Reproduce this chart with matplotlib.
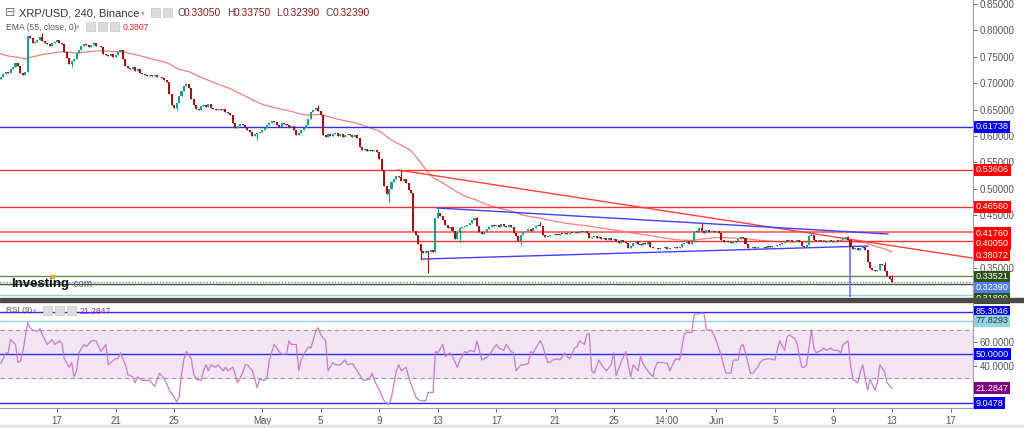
import numpy as np
import matplotlib
matplotlib.use("Agg")
from matplotlib import pyplot as plt
from matplotlib.patches import Rectangle

plt.rcParams['font.family'] = ['Liberation Sans', 'DejaVu Sans']

# XRP/USD 4h closes from Apr 13 00:00, six bars per day
first_open = 0.705
closes = [
    0.708, 0.712, 0.718, 0.722, 0.720, 0.726,
    0.730, 0.738, 0.733, 0.720, 0.716, 0.722,
    0.790, 0.785, 0.776, 0.778, 0.782, 0.788,
    0.780, 0.776, 0.774, 0.771, 0.776, 0.779,
    0.782, 0.777, 0.775, 0.760, 0.748, 0.737,
    0.742, 0.745, 0.757, 0.762, 0.770, 0.774,
    0.772, 0.768, 0.773, 0.776, 0.770, 0.771,
    0.768, 0.756, 0.754, 0.752, 0.755, 0.750,
    0.753, 0.759, 0.763, 0.745, 0.733, 0.729,
    0.727, 0.730, 0.724, 0.726, 0.720, 0.717,
    0.715, 0.714, 0.716, 0.713, 0.715, 0.712,
    0.711, 0.709, 0.707, 0.703, 0.680, 0.658,
    0.653, 0.662, 0.675, 0.686, 0.695, 0.698,
    0.690, 0.670, 0.658, 0.652, 0.650, 0.656,
    0.658, 0.655, 0.660, 0.653, 0.651, 0.650,
    0.652, 0.649, 0.651, 0.646, 0.644, 0.640,
    0.625, 0.616, 0.619, 0.622, 0.620, 0.617,
    0.612, 0.608, 0.600, 0.603, 0.606, 0.608,
    0.612, 0.616, 0.621, 0.624, 0.628, 0.626,
    0.621, 0.618, 0.625, 0.623, 0.620, 0.618,
    0.619, 0.612, 0.602, 0.606, 0.612, 0.615,
    0.620, 0.632, 0.645, 0.650, 0.654, 0.648,
    0.640, 0.602, 0.598, 0.604, 0.600, 0.603,
    0.605, 0.600, 0.603, 0.598, 0.601, 0.604,
    0.602, 0.599, 0.601, 0.596, 0.580, 0.574,
    0.575, 0.572, 0.574, 0.571, 0.573, 0.570,
    0.556, 0.535, 0.505, 0.490, 0.500, 0.512,
    0.518, 0.525, 0.522, 0.515, 0.518, 0.511,
    0.498, 0.493, 0.420, 0.413, 0.395, 0.383,
    0.378, 0.382, 0.380, 0.384, 0.381, 0.445,
    0.455, 0.448, 0.440, 0.432, 0.425, 0.428,
    0.420, 0.405, 0.418, 0.425, 0.428, 0.430,
    0.432, 0.436, 0.440, 0.444, 0.430, 0.418,
    0.415, 0.418, 0.424, 0.428, 0.432, 0.429,
    0.431, 0.428, 0.433, 0.430, 0.427, 0.431,
    0.428, 0.416, 0.410, 0.402, 0.412, 0.418,
    0.420, 0.423, 0.421, 0.426, 0.429, 0.432,
    0.430, 0.412, 0.409, 0.411, 0.413, 0.412,
    0.414, 0.413, 0.415, 0.414, 0.416, 0.415,
    0.417, 0.416, 0.418, 0.417, 0.419, 0.418,
    0.420, 0.416, 0.406, 0.408, 0.410, 0.407,
    0.409, 0.405, 0.407, 0.404, 0.406, 0.403,
    0.405, 0.402, 0.398, 0.403, 0.400, 0.397,
    0.388, 0.392, 0.398, 0.401, 0.396, 0.394,
    0.398, 0.395, 0.399, 0.389, 0.387, 0.388,
    0.386, 0.388, 0.387, 0.389, 0.386, 0.388,
    0.387, 0.389, 0.388, 0.390, 0.395, 0.398,
    0.401, 0.396, 0.400, 0.421, 0.418, 0.425,
    0.420, 0.417, 0.422, 0.419, 0.421, 0.418,
    0.420, 0.416, 0.403, 0.399, 0.401, 0.400,
    0.398, 0.401, 0.399, 0.405, 0.409, 0.407,
    0.395, 0.388, 0.387, 0.389, 0.388, 0.390,
    0.389, 0.390, 0.388, 0.391, 0.390, 0.392,
    0.391, 0.393, 0.396, 0.398, 0.402, 0.401,
    0.403, 0.400, 0.402, 0.404, 0.400, 0.391,
    0.390, 0.393, 0.410, 0.412, 0.404, 0.402,
    0.403, 0.401, 0.402, 0.400, 0.402, 0.401,
    0.400, 0.402, 0.401, 0.403, 0.405, 0.408,
    0.404, 0.390, 0.386, 0.388, 0.385, 0.387,
    0.389, 0.384, 0.362, 0.350, 0.346, 0.344,
    0.347, 0.358, 0.356, 0.345, 0.335, 0.330,
    0.3239,
]

# notable wicks (bar index, extreme price)
wick_bars = [18, 30, 73, 77, 106, 131, 160, 165, 173, 176, 180, 189, 196, 214, 222, 288, 333, 348, 363, 366]
wick_prices = [0.795, 0.731, 0.649, 0.700, 0.593, 0.659, 0.475, 0.536, 0.365, 0.340,
               0.464, 0.399, 0.447, 0.394, 0.437, 0.435, 0.416, 0.410, 0.362, 0.3375]

ema_start = 0.757
ema_len = 55

# RSI(9) (bar index, value)
rsi_bars = [1, 3, 4, 5, 7, 8, 9, 10, 12, 13, 14, 16, 17, 18, 20, 22, 23, 25, 26, 27,
            29, 30, 31, 32, 33, 35, 36, 38, 40, 42, 44, 45, 46, 48, 49, 50, 52, 53, 55, 56,
            57, 59, 61, 62, 64, 66, 68, 69, 70, 72, 73, 74, 75, 76, 77, 79, 80, 81, 83, 84,
            85, 86, 87, 89, 90, 92, 93, 94, 96, 97, 98, 100, 101, 102, 104, 105, 106, 107, 109, 110,
            111, 112, 113, 115, 116, 118, 119, 120, 122, 123, 124, 126, 127, 128, 130, 131, 132, 134, 135, 137,
            138, 140, 142, 143, 145, 147, 149, 150, 152, 153, 154, 156, 157, 158, 160, 161, 163, 164, 165, 167,
            168, 169, 171, 172, 173, 175, 176, 178, 179, 180, 182, 183, 185, 186, 188, 189, 191, 192, 193, 195,
            196, 198, 199, 201, 202, 204, 205, 207, 208, 210, 211, 212, 214, 215, 217, 218, 219, 221, 222, 223,
            225, 226, 227, 229, 230, 232, 233, 234, 236, 237, 238, 240, 241, 242, 243, 244, 246, 247, 249, 251,
            252, 253, 255, 257, 258, 259, 260, 262, 263, 264, 266, 268, 269, 270, 272, 274, 275, 277, 278, 279,
            281, 282, 284, 285, 288, 289, 290, 292, 293, 294, 296, 297, 298, 300, 301, 303, 304, 305, 307, 308,
            309, 311, 312, 313, 315, 316, 318, 319, 320, 322, 323, 324, 326, 327, 329, 330, 331, 333, 334, 335,
            337, 338, 339, 341, 342, 344, 345, 346, 348, 349, 350, 352, 353, 354, 356, 357, 359, 360, 361, 363,
            364, 366]
rsi_vals = [42, 51, 51, 62, 58, 43, 44, 52, 76, 72, 70, 69, 71, 66, 58, 62, 58, 61, 59, 46,
            39, 43, 31, 36, 51, 58, 56, 61, 61, 52, 58, 41, 43, 46, 46, 51, 41, 33, 31, 26,
            31, 28, 28, 28, 23, 34, 29, 25, 20, 14, 10, 14, 33, 46, 52, 46, 33, 29, 28, 36,
            41, 36, 41, 39, 41, 36, 39, 36, 39, 33, 26, 34, 41, 41, 36, 29, 22, 29, 28, 31,
            45, 52, 58, 52, 50, 50, 61, 58, 58, 36, 45, 53, 56, 55, 69, 72, 66, 61, 36, 43,
            41, 41, 45, 41, 42, 36, 29, 28, 29, 34, 28, 20, 15, 11, 8, 14, 36, 41, 36, 39,
            31, 25, 14, 12, 11, 11, 18, 18, 52, 51, 58, 48, 51, 48, 39, 45, 52, 51, 53, 52,
            61, 45, 46, 49, 52, 58, 55, 53, 58, 52, 51, 36, 41, 41, 42, 52, 51, 58, 61, 56,
            43, 43, 45, 46, 45, 51, 48, 46, 55, 56, 61, 58, 66, 67, 36, 34, 45, 41, 36, 41,
            51, 32, 43, 52, 41, 31, 41, 36, 48, 42, 36, 31, 39, 43, 43, 42, 36, 45, 46, 45,
            67, 68, 68, 83, 84, 84, 70, 70, 66, 61, 49, 41, 34, 34, 45, 45, 56, 58, 43, 34,
            34, 39, 43, 45, 46, 46, 45, 53, 61, 53, 64, 66, 63, 60, 39, 39, 41, 70, 55, 51,
            53, 55, 53, 55, 53, 53, 51, 58, 61, 41, 29, 26, 35, 41, 20, 29, 20, 26, 41, 35,
            26, 21.2847]

# horizontal levels
blue_levels = [0.61738]
red_levels = [0.53606, 0.46560, 0.40050]
pink_levels = [0.41760]
green_levels = [0.33521]
dark_green_levels = [0.31890]
last_price = 0.32390
cyan_levels = [0.29900]
ema_tag = 0.38072

# trend lines: (day, price) pairs
red_trend = ([27.28, 66.46], [0.5356, 0.369])
upper_channel = ([29.94, 60.72], [0.4637, 0.4144])
lower_channel = ([28.98, 59.36], [0.367, 0.3917])
break_day = 58.13

rsi_upper, rsi_cyan, rsi_mid, rsi_lower = 85.3046, 77.8293, 50.0, 9.0478

price_ticks = [0.35, 0.45, 0.50, 0.55, 0.60, 0.65, 0.70, 0.75, 0.80, 0.85]
tick_days = [4, 8, 12, 18, 22, 26, 30, 34, 38, 42, 45.6, 49, 53, 57, 61, 65]
tick_labels = ['17', '21', '25', 'May', '5', '9', '13', '17', '21', '25', '14:00',
               'Jun', '5', '9', '13', '17']

# ---------------------------------------------------------------
W, H = 1024, 428
PX_PER_UNIT = 528  # price scale of the upper pane
P_TOP = 0.8576


def fx(x):
    return x / W


def fy(y):
    return 1 - y / H


def py(y):
    # price at a pixel row of the upper pane (for stacked tags)
    return P_TOP - y / PX_PER_UNIT


closes = np.array(closes)
opens = np.r_[first_open, closes[:-1]]
bars = np.arange(len(closes))
t = bars / 6
highs = np.maximum(opens, closes)
lows = np.minimum(opens, closes)
for b, p in zip(wick_bars, wick_prices):
    highs[b] = max(highs[b], p)
    lows[b] = min(lows[b], p)

alpha = 2 / (ema_len + 1)
ema = [ema_start]
for c in closes[1:]:
    ema.append(ema[-1] + alpha * (c - ema[-1]))

fig = plt.figure(figsize=(10.24, 4.28), dpi=100)
ax = fig.add_axes([0, fy(297), fx(973), 297 / H])
ax2 = fig.add_axes([0, fy(408), fx(973), 107 / H], sharex=ax)

up = closes >= opens
col = np.where(up, '#1f9e88', '#a01414')
ax.vlines(t, lows, highs, colors=col, lw=0.8, zorder=3)
ax.bar(t, np.maximum(np.abs(closes - opens), 0.0014), bottom=np.minimum(opens, closes),
       width=0.14, color=col, zorder=3)
ax.plot(t, ema, color='#f28080', lw=0.9, zorder=2)

for lv in blue_levels:
    ax.axhline(lv, color='#2b2bff', lw=1)
for lv in red_levels:
    ax.axhline(lv, color='#ff3030', lw=1)
for lv in pink_levels:
    ax.axhline(lv, color='#ff7070', lw=1.4)
for lv in green_levels:
    ax.axhline(lv, color='#6a8c55', lw=1)
for lv in dark_green_levels:
    ax.axhline(lv, color='#3c5a2c', lw=1)
for lv in cyan_levels:
    ax.axhline(lv, color='#8fd4e0', lw=1)
ax.axhline(last_price, color='#5a7cff', lw=0.9, ls=(0, (1, 1.5)))

ax.plot(*red_trend, color='#ff4040', lw=1)
ax.plot(*upper_channel, color='#4040ff', lw=1)
ax.plot(*lower_channel, color='#4040ff', lw=1)
ax.plot([break_day, break_day], [lower_channel[1][1], 0.2], color='#7070ff', lw=1.2)

ax.set_xlim(0.109, 66.53)
ax.set_ylim(P_TOP - 297 / PX_PER_UNIT, P_TOP)
ax.yaxis.tick_right()
ax.set_yticks(price_ticks)
ax.yaxis.set_major_formatter(matplotlib.ticker.FormatStrFormatter('%.5f'))
ax.tick_params(axis='y', labelsize=7, colors='#555555', length=3, width=0.6, pad=2)
ax.tick_params(axis='x', bottom=False, labelbottom=False)
for s in ['top', 'left', 'bottom']:
    ax.spines[s].set_visible(False)
ax.spines['right'].set_color('#a0a0a0')


def tag(a, y, text, fc, tc='white'):
    a.text(1.003, y, text, transform=a.get_yaxis_transform(), va='center', ha='left',
           fontsize=6.6, color=tc, clip_on=False, zorder=10,
           bbox=dict(boxstyle='square,pad=0.16', fc=fc, ec='none'))


tag(ax, blue_levels[0], '0.61738', '#0000ee')
tag(ax, red_levels[0], '0.53606', '#ff0000')
tag(ax, red_levels[1], '0.46560', '#ff0000')
tag(ax, py(233), '0.41760', '#ff0000')
tag(ax, py(244), '0.40050', '#ff0000')
tag(ax, py(255), '0.38072', '#ff0000')
tag(ax, py(276.5), '0.33521', '#2c5219')
tag(ax, py(287.5), '0.32390', '#4f80e8')
tag(ax, py(298.5), '0.31890', '#2c5219')

# RSI pane
ax2.fill_between([0, 70], 30, 70, color='#f3e5f3', zorder=0)
ax2.axhline(70, color='#999999', lw=0.8, ls=(0, (4, 3)))
ax2.axhline(30, color='#999999', lw=0.8, ls=(0, (4, 3)))
for lv in [rsi_upper, rsi_mid, rsi_lower]:
    ax2.axhline(lv, color='#2b2bff', lw=1)
ax2.axhline(rsi_cyan, color='#8fd4e0', lw=1)
ax2.plot(np.array(rsi_bars) / 6, rsi_vals, color='#c77cc7', lw=0.9, zorder=3)
ax2.set_ylim(5, 94.2)
ax2.yaxis.tick_right()
ax2.set_yticks([40, 60])
ax2.set_yticklabels(['40.0000', '60.0000'])
ax2.tick_params(axis='y', labelsize=7, colors='#555555', length=3, width=0.6, pad=2)
ax2.set_xticks(tick_days)
ax2.set_xticklabels(tick_labels)
ax2.tick_params(axis='x', labelsize=7, colors='#555555', length=3, width=0.6, pad=3)
for s in ['top', 'left']:
    ax2.spines[s].set_visible(False)
ax2.spines['right'].set_color('#a0a0a0')
ax2.spines['bottom'].set_color('#a0a0a0')
tag(ax2, rsi_upper, '85.3046', '#0000ee')
tag(ax2, rsi_cyan, '77.8293', '#8fd4e0', tc='#333333')
tag(ax2, rsi_mid, '50.0000', '#0000ee')
tag(ax2, rsi_vals[-1], '21.2847', '#800080')
tag(ax2, rsi_lower, '9.0478', '#0000ee')

# pane separator and bottom strip
fig.add_artist(Rectangle((0, fy(302)), 1, 4 / H, transform=fig.transFigure,
                         color='#4a4a4a', zorder=20))
fig.add_artist(Rectangle((0, 0), 1, 3 / H, transform=fig.transFigure,
                         color='#e6e6e6', zorder=20))


# legend rows
def icon(x, y):
    fig.add_artist(Rectangle((fx(x), fy(y + 9)), 9 / W, 9 / H, transform=fig.transFigure,
                             fc='#dcdcdc', ec='#c8c8c8', lw=0.5, zorder=21))


fig.text(fx(5), fy(13), '⊟', fontsize=9, color='#777777', va='center',
         family=['DejaVu Sans'])
fig.text(fx(19), fy(13), 'XRP/USD, 240, Binance', fontsize=8, color='#333333', va='center')
fig.text(fx(141), fy(13), '▾', fontsize=5.5, color='#aaaaaa', va='center', family=['DejaVu Sans'])
icon(151, 8)
icon(163, 8)
for x0, lab, val in [(177, 'O', '0.33050'), (227, 'H', '0.33750'), (276, 'L', '0.32390'),
                     (326, 'C', '0.32390')]:
    fig.text(fx(x0), fy(13), lab, fontsize=7.4, color='#444444', va='center')
    fig.text(fx(x0 + 7), fy(13), val, fontsize=7.4, color='#8b1a1a', va='center')

fig.text(fx(6), fy(27), 'EMA (55, close, 0)', fontsize=6.2, color='#555555', va='center')
fig.text(fx(76), fy(27), '▾', fontsize=5, color='#aaaaaa', va='center', family=['DejaVu Sans'])
for x0 in [86, 98, 110]:
    icon(x0, 22)
fig.text(fx(123), fy(27), '0.3807', fontsize=6.2, color='#ff2020', va='center')

fig.text(fx(6), fy(311), 'RSI (9)', fontsize=6, color='#555555', va='center')
fig.text(fx(33), fy(311), '▾', fontsize=5, color='#aaaaaa', va='center', family=['DejaVu Sans'])
for x0 in [43, 55, 67]:
    icon(x0, 306)
fig.text(fx(80), fy(311), '21.2847', fontsize=6.2, color='#9a2a9a', va='center')

# Investing.com watermark
fig.text(fx(11), fy(287), 'Investing', fontsize=9.5, weight='bold', color='#111111',
         va='baseline')
fig.text(fx(71), fy(287), '.com', fontsize=7, color='#666666', va='baseline')
fig.add_artist(Rectangle((fx(51), fy(278)), 3 / W, 3 / H, transform=fig.transFigure,
                         color='#f5a623', zorder=21))

fig.savefig('out.png', dpi=100)
